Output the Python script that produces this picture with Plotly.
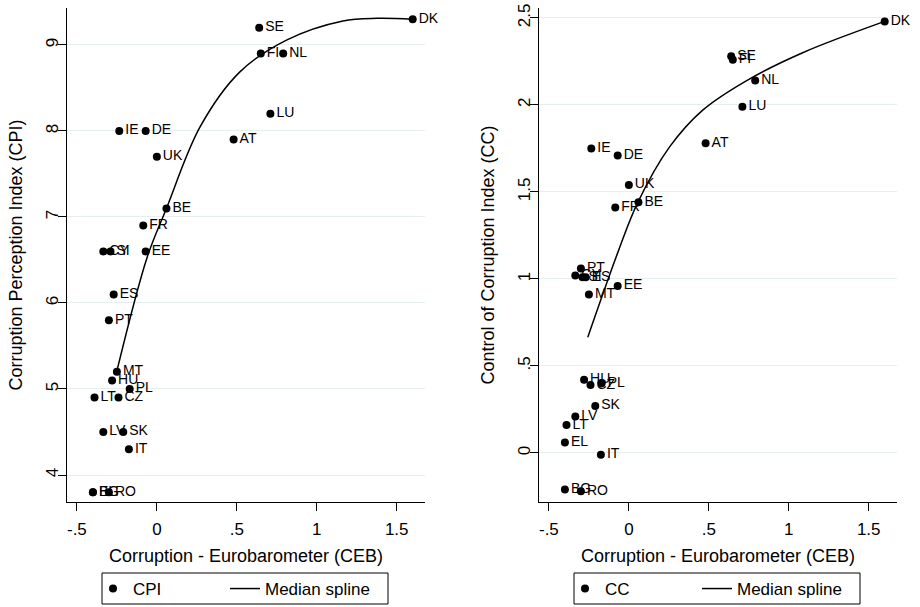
import plotly.graph_objects as go

countries = ["DK", "SE", "FI", "NL", "LU", "AT", "IE", "DE", "UK", "BE", "FR", "EE", "CY", "SI",
             "ES", "PT", "MT", "HU", "PL", "LT", "CZ", "LV", "SK", "IT", "BG", "EL", "RO"]
ceb = [1.60, 0.64, 0.65, 0.79, 0.71, 0.48, -0.235, -0.07, 0.0, 0.06, -0.085, -0.07, -0.335, -0.29,
       -0.27, -0.30, -0.25, -0.28, -0.17, -0.39, -0.24, -0.335, -0.21, -0.175, -0.40, -0.40, -0.30]
cpi = [9.3, 9.2, 8.9, 8.9, 8.2, 7.9, 8.0, 8.0, 7.7, 7.1, 6.9, 6.6, 6.6, 6.6,
       6.1, 5.8, 5.2, 5.1, 5.0, 4.9, 4.9, 4.5, 4.5, 4.3, 3.8, 3.8, 3.8]
cc = [2.48, 2.28, 2.26, 2.14, 1.99, 1.78, 1.75, 1.71, 1.54, 1.44, 1.41, 0.96, 1.02, 1.01,
      1.01, 1.06, 0.91, 0.42, 0.40, 0.16, 0.39, 0.21, 0.27, -0.01, -0.21, 0.06, -0.22]

cpi_spline_x = [-0.25, -0.061, 0.058, 0.271, 0.521, 0.814, 1.164, 1.377, 1.60]
cpi_spline_y = [5.21, 6.53, 7.09, 8.05, 8.69, 9.06, 9.28, 9.31, 9.30]
cc_spline_x = [-0.257, -0.063, 0.056, 0.256, 0.462, 0.737, 1.087, 1.60]
cc_spline_y = [0.665, 1.167, 1.44, 1.76, 1.97, 2.14, 2.30, 2.48]

x_tickvals = [-0.5, 0, 0.5, 1, 1.5]
x_ticktext = ["-.5", "0", ".5", "1", "1.5"]
cpi_tickvals = [4, 5, 6, 7, 8, 9]
cpi_ticktext = ["4", "5", "6", "7", "8", "9"]
cc_tickvals = [0, 0.5, 1, 1.5, 2, 2.5]
cc_ticktext = ["0", ".5", "1", "1.5", "2", "2.5"]

FONT = "Liberation Sans, Arial, sans-serif"
W, H = 920, 607


def px(x):
    return x / W


def py(y):
    return 1 - y / H


fig = go.Figure()
fig.add_trace(go.Scatter(x=ceb, y=cpi, mode="markers+text", text=countries,
                         textposition="middle right", textfont=dict(size=14, color="black"),
                         marker=dict(color="black", size=8), name="CPI",
                         xaxis="x", yaxis="y", legend="legend", cliponaxis=False))
fig.add_trace(go.Scatter(x=cpi_spline_x, y=cpi_spline_y, mode="lines",
                         line=dict(color="black", width=1.5, shape="spline", smoothing=1),
                         name="Median spline", xaxis="x", yaxis="y", legend="legend2"))
fig.add_trace(go.Scatter(x=ceb, y=cc, mode="markers+text", text=countries,
                         textposition="middle right", textfont=dict(size=14, color="black"),
                         marker=dict(color="black", size=8), name="CC",
                         xaxis="x2", yaxis="y2", legend="legend3", cliponaxis=False))
fig.add_trace(go.Scatter(x=cc_spline_x, y=cc_spline_y, mode="lines",
                         line=dict(color="black", width=1.5, shape="spline", smoothing=1),
                         name="Median spline", xaxis="x2", yaxis="y2", legend="legend4"))

ydom = [py(502), py(8)]
xrange_ = [-0.562, 1.677]

common_x = dict(range=xrange_, showline=True, linecolor="black", linewidth=1,
                ticks="outside", ticklen=8, tickcolor="black", tickvals=x_tickvals,
                ticktext=x_ticktext, showgrid=False, zeroline=False, automargin=False,
                ticklabelstandoff=4, ticklabeloverflow="allow",
                tickfont=dict(size=17, color="black"),
                title=dict(text="Corruption - Eurobarometer (CEB)", standoff=10,
                           font=dict(size=18, color="black")))
common_y = dict(showline=True, linecolor="black", linewidth=1, ticks="outside", ticklen=8,
                tickcolor="black", tickangle=-90, showgrid=True, gridcolor="#e6eef0",
                gridwidth=1, zeroline=False, automargin=False, ticklabelstandoff=-7,
                ticklabeloverflow="allow",
                tickfont=dict(size=17, color="black"))

legend_common = dict(orientation="h", borderwidth=0, bgcolor="rgba(0,0,0,0)",
                     font=dict(size=17, color="black", family=FONT), yanchor="middle",
                     xanchor="left")
leg_y = py(589)
shift = 472

fig.update_layout(
    width=W, height=H, margin=dict(l=0, r=0, t=0, b=0, autoexpand=False),
    paper_bgcolor="white", plot_bgcolor="white", showlegend=True,
    font=dict(family=FONT, color="black"),
    xaxis=dict(domain=[px(67), px(425)], anchor="y", **common_x),
    yaxis=dict(domain=ydom, anchor="x", range=[3.686, 9.43], tickvals=cpi_tickvals,
               ticktext=cpi_ticktext,
               title=dict(text="Corruption Perception Index (CPI)", font=dict(size=18, color="black")),
               **common_y),
    xaxis2=dict(domain=[px(539), px(897)], anchor="y2", **common_x),
    yaxis2=dict(domain=ydom, anchor="x2", range=[-0.282, 2.557], tickvals=cc_tickvals,
                ticktext=cc_ticktext,
                title=dict(text="Control of Corruption Index (CC)", font=dict(size=18, color="black")),
                **common_y),
    legend=dict(x=px(93), y=leg_y, **legend_common),
    legend2=dict(x=px(225), y=leg_y, **legend_common),
    legend3=dict(x=px(93 + shift), y=leg_y, **legend_common),
    legend4=dict(x=px(225 + shift), y=leg_y, **legend_common),
    shapes=[
        dict(type="rect", xref="paper", yref="paper", x0=px(102), x1=px(388),
             y0=py(604), y1=py(573), line=dict(color="black", width=1), fillcolor="rgba(0,0,0,0)"),
        dict(type="rect", xref="paper", yref="paper", x0=px(102 + shift), x1=px(388 + shift),
             y0=py(604), y1=py(573), line=dict(color="black", width=1), fillcolor="rgba(0,0,0,0)"),
    ],
)

fig.write_html("out.html", config={"displayModeBar": False},
               post_script="document.body.style.margin='0';")
